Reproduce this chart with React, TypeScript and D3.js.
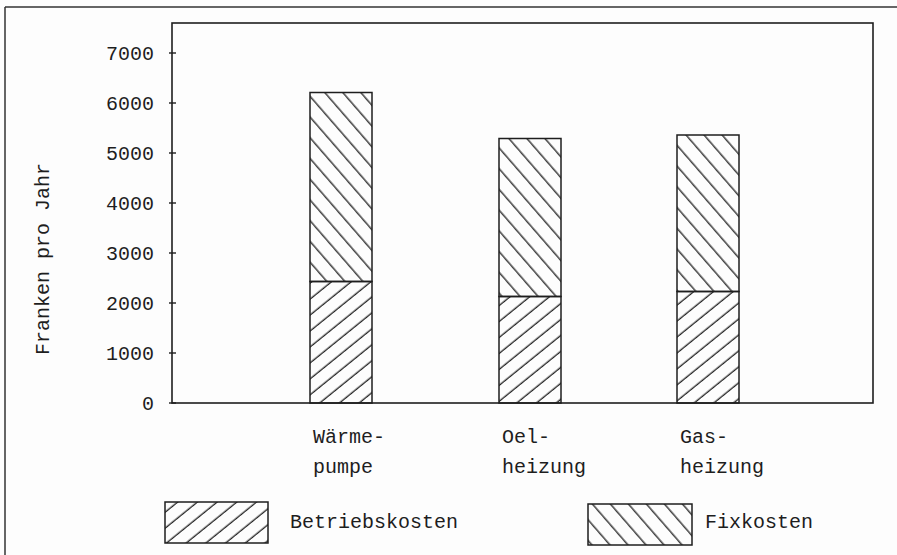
import React from "react";
import * as d3 from "d3";

const categories = ["Wärmepumpe", "Oelheizung", "Gasheizung"];
const labelLine1 = ["Wärme-", "Oel-", "Gas-"];
const labelLine2 = ["pumpe", "heizung", "heizung"];
const betriebskosten = [2430, 2130, 2230];
const fixkosten = [3780, 3160, 3130];
const yTicks = [0, 1000, 2000, 3000, 4000, 5000, 6000, 7000];
const seriesNames = ["Betriebskosten", "Fixkosten"];

const W = 897;
const H = 555;
const plot = { left: 172, right: 873, top: 23, bottom: 403 };
const FONT = "'Liberation Mono', 'Courier New', monospace";
const INK = "#1e1e1e";

export default function App() {
  const y = d3.scaleLinear().domain([0, 7000]).range([403, 53]);
  const x = d3
    .scaleOrdinal<string, number>()
    .domain(categories)
    .range([310, 499, 677]);
  const barW = 62;

  const stackData = categories.map((c, i) => ({
    cat: c,
    b: betriebskosten[i],
    f: fixkosten[i],
  }));
  const stack = d3.stack<any>().keys(["b", "f"])(stackData);

  return (
    <svg
      width={W}
      height={H}
      style={{ position: "absolute", left: 0, top: 0, background: "#fdfdfd" }}
    >
      <defs>
        <pattern
          id="hatchB"
          patternUnits="userSpaceOnUse"
          width={20}
          height={12.4}
          patternTransform="rotate(-39)"
        >
          <line x1={-2} y1={6} x2={22} y2={6} stroke={INK} strokeWidth={1.3} />
        </pattern>
        <pattern
          id="hatchF"
          patternUnits="userSpaceOnUse"
          width={20}
          height={13.6}
          patternTransform="rotate(49)"
        >
          <line x1={-2} y1={6} x2={22} y2={6} stroke={INK} strokeWidth={1.3} />
        </pattern>
      </defs>

      {/* outer frame (top & left visible) */}
      <line x1={5} y1={7} x2={W} y2={7} stroke="#333" strokeWidth={1.5} />
      <line x1={5} y1={7} x2={5} y2={H} stroke="#333" strokeWidth={1.5} />

      {/* plot box */}
      <rect
        x={plot.left}
        y={plot.top}
        width={plot.right - plot.left}
        height={plot.bottom - plot.top}
        fill="none"
        stroke={INK}
        strokeWidth={1.6}
      />

      {/* y ticks */}
      {yTicks.map((t) => (
        <g key={t}>
          <line
            x1={plot.left - 3}
            x2={plot.left + 4}
            y1={y(t)}
            y2={y(t)}
            stroke={INK}
            strokeWidth={1.4}
          />
          <text
            x={154}
            y={y(t) + 7}
            textAnchor="end"
            fontFamily={FONT}
            fontSize={20}
            fill={INK}
          >
            {t}
          </text>
        </g>
      ))}

      {/* y title */}
      <text
        transform={`translate(49,259) rotate(-90)`}
        textAnchor="middle"
        fontFamily={FONT}
        fontSize={20}
        fill={INK}
      >
        Franken pro Jahr
      </text>

      {/* bars */}
      {stack.map((s, si) =>
        s.map((d, i) => (
          <rect
            key={`${si}-${i}`}
            x={x(categories[i])}
            y={y(d[1])}
            width={barW}
            height={y(d[0]) - y(d[1])}
            fill={si === 0 ? "url(#hatchB)" : "url(#hatchF)"}
            stroke={INK}
            strokeWidth={1.5}
          />
        ))
      )}

      {/* category labels */}
      {categories.map((c, i) => (
        <text key={c} fontFamily={FONT} fontSize={20} fill={INK}>
          <tspan x={(x(c) as number) + 3} y={443}>
            {labelLine1[i]}
          </tspan>
          <tspan x={(x(c) as number) + 3} y={473}>
            {labelLine2[i]}
          </tspan>
        </text>
      ))}

      {/* legend */}
      <rect
        x={165}
        y={502}
        width={103}
        height={41}
        fill="url(#hatchB)"
        stroke={INK}
        strokeWidth={1.5}
      />
      <text x={290} y={528} fontFamily={FONT} fontSize={20} fill={INK}>
        {seriesNames[0]}
      </text>
      <rect
        x={588}
        y={504}
        width={104}
        height={41}
        fill="url(#hatchF)"
        stroke={INK}
        strokeWidth={1.5}
      />
      <text x={705} y={528} fontFamily={FONT} fontSize={20} fill={INK}>
        {seriesNames[1]}
      </text>
    </svg>
  );
}
